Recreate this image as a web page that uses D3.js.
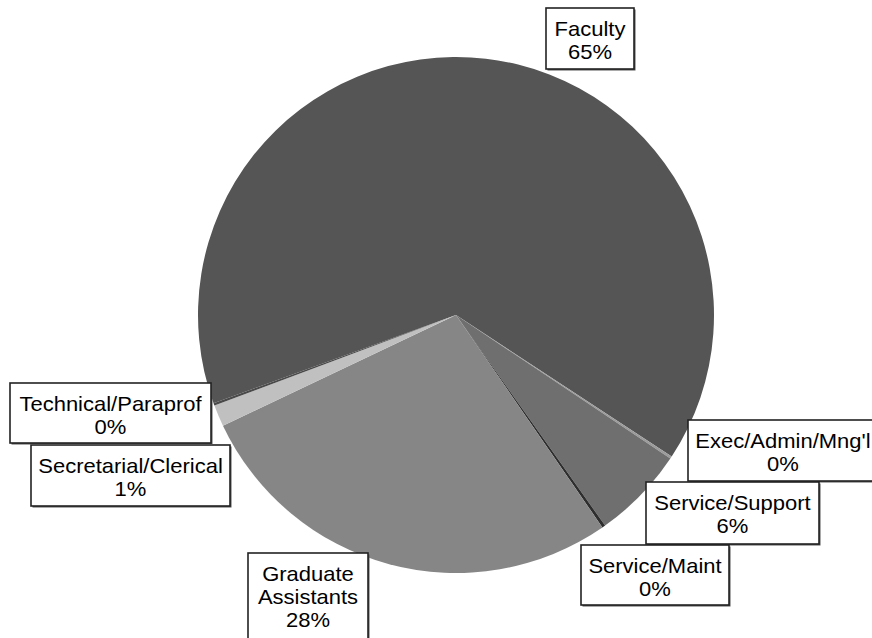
<!DOCTYPE html>
<html>
<head>
<meta charset="utf-8">
<script src="https://cdn.jsdelivr.net/npm/d3@7"></script>
<style>
  html, body { margin: 0; padding: 0; background: #fff; }
  svg { display: block; }
  text { font-family: "Liberation Sans", Arial, sans-serif; font-size: 20px; fill: #000; }
</style>
</head>
<body>
<svg id="chart" width="872" height="638"></svg>
<script>
// ---- data ----
const categories = ["Faculty", "Exec/Admin/Mng'l", "Service/Support", "Service/Maint",
                    "Graduate Assistants", "Secretarial/Clerical", "Technical/Paraprof"];
const values = [64.8, 0.15, 5.8, 0.2, 27.55, 1.35, 0.15];
const labelLines = [["Faculty"], ["Exec/Admin/Mng'l"], ["Service/Support"], ["Service/Maint"],
                    ["Graduate", "Assistants"], ["Secretarial/Clerical"], ["Technical/Paraprof"]];

// ---- styles / layout ----
const sliceColors = ["#555555", "#9c9c9c", "#6f6f6f", "#2e2e2e", "#868686", "#c0c0c0", "#4a4a4a"];
// label boxes: [left, top, width, height]
const labelBoxes = [
  [546, 8, 88, 61],
  [688, 420, 190, 61],
  [646, 482, 173, 62],
  [581, 545, 148, 60],
  [248, 553, 120, 86],
  [31, 445, 199, 61],
  [10, 383, 201, 60]
];

const svg = d3.select("#chart");
const cx = 456, cy = 315, R = 258;

const total = d3.sum(values);
const pie = d3.pie().sort(null).value(d => d)
  .startAngle(-110 * Math.PI / 180).endAngle(250 * Math.PI / 180);
const arcs = pie(values);
const arc = d3.arc().innerRadius(0).outerRadius(R);

const g = svg.append("g").attr("transform", `translate(${cx},${cy})`);
g.selectAll("path").data(arcs).join("path")
  .attr("d", arc)
  .attr("fill", (d, i) => sliceColors[i]);

// labels
const lbl = svg.append("g");
arcs.forEach((d, i) => {
  const [x, y, w, h] = labelBoxes[i];
  const grp = lbl.append("g");
  grp.append("rect").attr("x", x + 1.5).attr("y", y + 1.5).attr("width", w).attr("height", h)
    .attr("fill", "#555");
  grp.append("rect").attr("x", x).attr("y", y).attr("width", w).attr("height", h)
    .attr("fill", "#fff").attr("stroke", "#222").attr("stroke-width", 1.6);
  const pct = Math.round(values[i] / total * 100) + "%";
  const lines = labelLines[i].concat([pct]);
  const lh = 22.7;
  const tx = x + w / 2;
  const firstBase = y + 28.3;
  lines.forEach((t, k) => {
    grp.append("text")
      .attr("transform", `translate(${tx},${firstBase + k * lh}) scale(1.1,1)`)
      .attr("text-anchor", "middle").text(t);
  });
});
</script>
</body>
</html>
